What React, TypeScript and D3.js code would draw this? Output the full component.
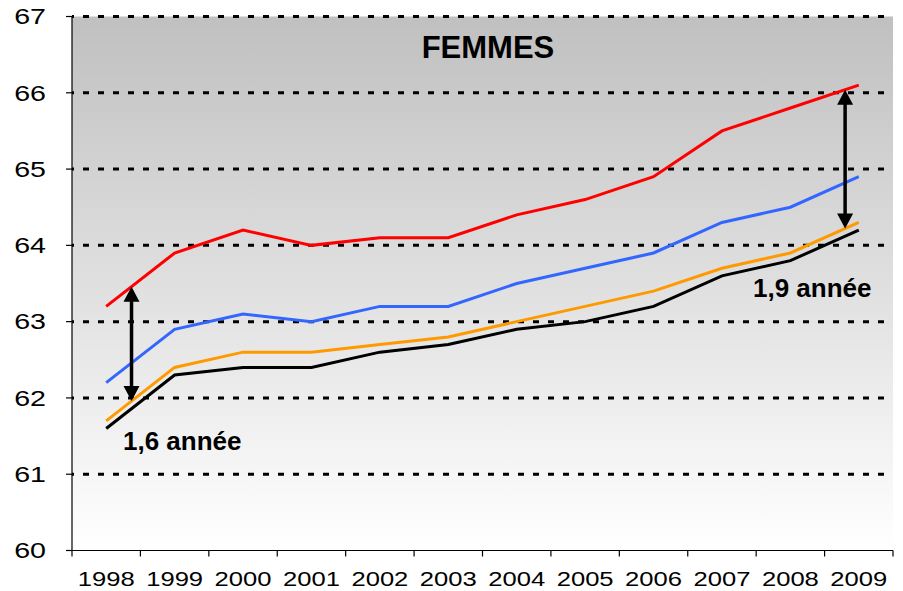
import React from "react";
import * as d3 from "d3";

// années et séries (espérance de vie, femmes)
const annees = ["1998", "1999", "2000", "2001", "2002", "2003", "2004", "2005", "2006", "2007", "2008", "2009"];
const serieRouge = [63.2, 63.9, 64.2, 64.0, 64.1, 64.1, 64.4, 64.6, 64.9, 65.5, 65.8, 66.1];
const serieBleue = [62.2, 62.9, 63.1, 63.0, 63.2, 63.2, 63.5, 63.7, 63.9, 64.3, 64.5, 64.9];
const serieOrange = [61.7, 62.4, 62.6, 62.6, 62.7, 62.8, 63.0, 63.2, 63.4, 63.7, 63.9, 64.3];
const serieNoire = [61.6, 62.3, 62.4, 62.4, 62.6, 62.7, 62.9, 63.0, 63.2, 63.6, 63.8, 64.2];
const yTicks = [60, 61, 62, 63, 64, 65, 66, 67];
const titre = "FEMMES";
const ecartLabels = ["1,6 année", "1,9 année"];

const series = [
  { values: serieNoire, color: "#000000" },
  { values: serieOrange, color: "#ff9900" },
  { values: serieBleue, color: "#3366ff" },
  { values: serieRouge, color: "#ff0000" },
];

const width = 903;
const height = 591;
const left = 72;
const right = 893;
const FONT = "'Liberation Sans', Arial, sans-serif";

const App = () => {
  const x = d3.scalePoint<string>().domain(annees).range([left, right]).padding(0.5);
  const step = x.step();
  const y = d3.scaleLinear().domain([60, 67]).range([550.5, 16.5]);

  const line = d3
    .line<number>()
    .x((d, i) => x(annees[i]) as number)
    .y((d) => y(d));

  // position of the arrow between two years, as a fraction of the step
  const arrowAt = (idx: number, frac: number) => {
    const xa = (x(annees[idx]) as number) + frac * step;
    const top = serieRouge[idx] + frac * (serieRouge[idx + 1] - serieRouge[idx]);
    const bot = serieOrange[idx] + frac * (serieOrange[idx + 1] - serieOrange[idx]);
    return { xa, y1: y(top), y2: y(bot) };
  };
  const arrows = [arrowAt(0, 0.37), arrowAt(10, 0.8)];
  const headL = 15;
  const headW = 8;

  return (
    <svg width={width} height={height} style={{ position: "absolute", left: 0, top: 0 }}>
      <defs>
        <linearGradient id="fond" x1="0" y1="0" x2="0" y2="1">
          <stop offset="0%" stopColor="#c0c0c0" />
          <stop offset="100%" stopColor="#ffffff" />
        </linearGradient>
      </defs>
      <rect x={left} y={y(67)} width={right - left} height={y(60) - y(67)} fill="url(#fond)" />

      {/* grille pointillée */}
      {yTicks.slice(1).map((t) => (
        <line
          key={t}
          x1={left}
          x2={right}
          y1={y(t)}
          y2={y(t)}
          stroke="#000"
          strokeWidth={3}
          strokeDasharray="6 9"
          strokeDashoffset={4}
        />
      ))}

      {/* axes */}
      <line x1={left} x2={left} y1={y(67)} y2={y(60)} stroke="#000" strokeWidth={1.2} />
      <line x1={left} x2={right} y1={y(60)} y2={y(60)} stroke="#000" strokeWidth={1.2} />
      {yTicks.map((t) => (
        <g key={t}>
          <line x1={left - 6} x2={left} y1={y(t)} y2={y(t)} stroke="#000" strokeWidth={1.2} />
          <text
            transform={`translate(46,${y(t)}) scale(1.3,1)`}
            textAnchor="end"
            dominantBaseline="central"
            fontFamily={FONT}
            fontSize={22}
            fill="#000"
          >
            {t}
          </text>
        </g>
      ))}
      {d3.range(annees.length + 1).map((i) => (
        <line
          key={i}
          x1={left + i * step}
          x2={left + i * step}
          y1={y(60)}
          y2={y(60) + 6}
          stroke="#000"
          strokeWidth={1.2}
        />
      ))}
      {annees.map((a) => (
        <text
          key={a}
          transform={`translate(${x(a)},586) scale(1.22,1)`}
          textAnchor="middle"
          fontFamily={FONT}
          fontSize={21}
          fill="#000"
        >
          {a}
        </text>
      ))}

      {/* séries */}
      {series.map((s, i) => (
        <path key={i} d={line(s.values) as string} fill="none" stroke={s.color} strokeWidth={3} />
      ))}

      {/* flèches d'écart */}
      {arrows.map((a, i) => (
        <g key={i}>
          <line x1={a.xa} x2={a.xa} y1={a.y1 + headL - 1} y2={a.y2 - headL + 1} stroke="#000" strokeWidth={3.5} />
          <path
            d={`M${a.xa},${a.y1} L${a.xa - headW},${a.y1 + headL} L${a.xa + headW},${a.y1 + headL} Z`}
            fill="#000"
          />
          <path
            d={`M${a.xa},${a.y2} L${a.xa - headW},${a.y2 - headL} L${a.xa + headW},${a.y2 - headL} Z`}
            fill="#000"
          />
        </g>
      ))}

      <text x={123} y={450} fontFamily={FONT} fontWeight="bold" fontSize={26} fill="#000">
        {ecartLabels[0]}
      </text>
      <text x={753} y={297} fontFamily={FONT} fontWeight="bold" fontSize={26} fill="#000">
        {ecartLabels[1]}
      </text>
      <text x={488} y={58} textAnchor="middle" fontFamily={FONT} fontWeight="bold" fontSize={31} fill="#000">
        {titre}
      </text>
    </svg>
  );
};

export default App;
